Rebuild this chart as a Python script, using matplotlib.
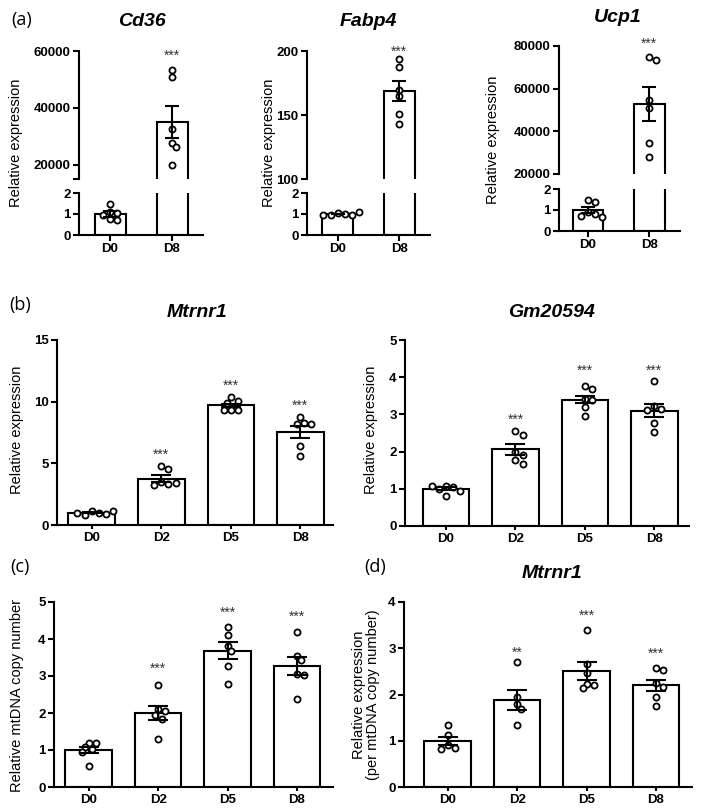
import matplotlib
matplotlib.use('Agg')
import matplotlib.pyplot as plt
import numpy as np

plt.rcParams['font.family'] = ['Liberation Sans', 'DejaVu Sans']

W, H = 703, 811
fig = plt.figure(figsize=(W / 100, H / 100), dpi=100)

# ---------------- data ----------------
cats_a = ['D0', 'D8']
cats_4 = ['D0', 'D2', 'D5', 'D8']

cd36_mean = [1.0, 35000]
cd36_sem = [0.12, 5600]
cd36_pts = [[1.5, 1.1, 1.05, 0.95, 0.75, 0.7],
            [53300, 51000, 32500, 27800, 26200, 19800]]
cd36_star = ['', '***']
cd36_star_y = [None, 59800]

fabp4_mean = [1.0, 168.5]
fabp4_sem = [0.02, 7.8]
fabp4_pts = [[1.05, 0.98, 0.95, 0.95, 0.97, 1.08],
             [194, 187.8, 169.5, 165, 150.8, 143]]
fabp4_star = ['', '***']
fabp4_star_y = [None, 202.3]

ucp1_mean = [1.0, 52700]
ucp1_sem = [0.13, 7900]
ucp1_pts = [[1.48, 1.38, 0.92, 0.82, 0.72, 0.68],
            [75000, 73400, 54500, 50800, 34400, 28200]]
ucp1_star = ['', '***']
ucp1_star_y = [None, 82800]

mtrnr1_mean = [1.0, 3.75, 9.7, 7.55]
mtrnr1_sem = [0.06, 0.3, 0.15, 0.5]
mtrnr1_pts = [[1.1, 1.0, 0.85, 0.9, 1.0, 1.15],
              [4.8, 4.55, 3.5, 3.3, 3.25, 3.4],
              [10.35, 10.05, 9.9, 9.35, 9.3, 9.35],
              [8.75, 8.3, 8.2, 8.15, 6.4, 5.6]]
mtrnr1_star = ['', '***', '***', '***']
mtrnr1_star_y = [None, 6.0, 11.6, 10.0]

gm_mean = [1.0, 2.06, 3.4, 3.1]
gm_sem = [0.04, 0.15, 0.1, 0.18]
gm_pts = [[1.08, 1.05, 1.0, 0.95, 0.8, 1.08],
          [2.55, 2.45, 2.0, 1.9, 1.78, 1.68],
          [3.77, 3.67, 3.42, 3.40, 3.2, 2.97],
          [3.9, 3.22, 3.15, 3.12, 2.78, 2.53]]
gm_star = ['', '***', '***', '***']
gm_star_y = [None, 2.97, 4.29, 4.29]

mt_mean = [1.0, 2.0, 3.68, 3.27]
mt_sem = [0.09, 0.19, 0.23, 0.24]
mt_pts = [[1.2, 1.19, 1.08, 1.02, 0.95, 0.57],
          [2.75, 2.1, 2.05, 1.95, 1.85, 1.3],
          [4.33, 4.12, 3.82, 3.68, 3.27, 2.78],
          [4.18, 3.55, 3.42, 3.05, 3.02, 2.38]]
mt_star = ['', '***', '***', '***']
mt_star_y = [None, 3.31, 4.81, 4.71]

norm_mean = [1.0, 1.88, 2.51, 2.2]
norm_sem = [0.09, 0.22, 0.19, 0.12]
norm_pts = [[1.33, 1.12, 0.9, 0.85, 0.82],
            [2.7, 1.94, 1.79, 1.69, 1.34],
            [3.39, 2.67, 2.47, 2.23, 2.2, 2.13],
            [2.57, 2.52, 2.25, 2.16, 1.75, 1.95]]
norm_star = ['', '**', '***', '***']
norm_star_y = [None, 3.0, 3.8, 2.96]

# ---------------- helpers ----------------
LW = 1.5


def add_ax(x0, x1, y0, y1):
    return fig.add_axes([x0 / W, 1 - y1 / H, (x1 - x0) / W, (y1 - y0) / H])


def swarm(vals, ypp, xpp, d=6.0, step=3.6):
    placed = []
    offs = []
    for v in vals:
        y = v * ypp
        chosen = 0.0
        for k in range(0, 30):
            if k == 0:
                cand = 0.0
            else:
                m = (k + 1) // 2
                cand = m * step * (1 if k % 2 else -1)
            ok = all((cand - px) ** 2 + (y - py) ** 2 >= (d * 0.95) ** 2 for px, py in placed)
            if ok:
                chosen = cand
                break
        placed.append((chosen, y))
        offs.append(chosen / xpp)
    return offs


def style_ax(ax, bottom=True):
    for s in ['top', 'right']:
        ax.spines[s].set_visible(False)
    ax.spines['left'].set_linewidth(LW)
    ax.spines['bottom'].set_linewidth(LW)
    if not bottom:
        ax.spines['bottom'].set_visible(False)
    ax.tick_params(axis='both', which='both', width=LW, length=4, direction='out', pad=2,
                   labelsize=9.5)
    for lab in ax.get_yticklabels() + ax.get_xticklabels():
        lab.set_fontweight('bold')


def px_scales(ax, axw, axh):
    xl = ax.get_xlim()
    yl = ax.get_ylim()
    return axh / (yl[1] - yl[0]), axw / (xl[1] - xl[0])


def draw_group(ax, xs, means, sems, pts, width, capsize, axw, axh, lo=None, hi=None):
    ax.bar(xs, means, width, color='white', edgecolor='black', linewidth=LW, zorder=1)
    ypp, xpp = px_scales(ax, axw, axh)
    for x, vals in zip(xs, pts):
        sel = [v for v in vals if (lo is None or v >= lo) and (hi is None or v <= hi)]
        if not sel:
            continue
        offs = swarm(sel, ypp, xpp)
        ax.plot(np.array(offs) + x, sel, 'o', ms=4.4, mfc='white', mec='black', mew=1.3,
                zorder=4, clip_on=False)
    ax.errorbar(xs, means, yerr=sems, fmt='none', ecolor='black', elinewidth=LW,
                capsize=capsize, capthick=LW, zorder=5)


def stars(ax, xs, labels, ys):
    for x, s, y in zip(xs, labels, ys):
        if s:
            ax.annotate(s, (x, y), xytext=(0, -3), textcoords='offset points', ha='center',
                        va='center', fontsize=10, color='#333333', annotation_clip=False)


def broken_panel(x0, x1, yu0, yu1, yl0, yl1, xlim, up_lim, up_ticks, up_minor,
                 means, sems, pts, star_lab, star_y):
    xs = np.arange(len(cats_a))
    axu = add_ax(x0, x1, yu0, yu1)
    axl = add_ax(x0, x1, yl0, yl1)
    for ax in (axu, axl):
        ax.set_xlim(*xlim)
    axu.set_ylim(*up_lim)
    axl.set_ylim(0, 2)
    draw_group(axu, xs, means, sems, pts, 0.5, 5, x1 - x0, yu1 - yu0, lo=up_lim[0])
    draw_group(axl, xs, means, sems, pts, 0.5, 5, x1 - x0, yl1 - yl0, hi=2)
    axu.set_yticks(up_ticks)
    axu.set_yticklabels([str(t) for t in up_ticks])
    if up_minor is not None:
        axu.set_yticks([up_minor], minor=True)
    axu.set_xticks([])
    axl.set_yticks([0, 1, 2])
    axl.set_xticks(xs)
    axl.set_xticklabels(cats_a)
    style_ax(axu, bottom=False)
    style_ax(axl)
    axu.tick_params(axis='y', which='minor', length=4, width=LW)
    stars(axu, xs, star_lab, star_y)
    return axu, axl


def simple_panel(x0, x1, y0, y1, xlim, ylim, yticks, means, sems, pts, star_lab, star_y):
    xs = np.arange(len(cats_4))
    ax = add_ax(x0, x1, y0, y1)
    ax.set_xlim(*xlim)
    ax.set_ylim(*ylim)
    draw_group(ax, xs, means, sems, pts, 0.67, 7, x1 - x0, y1 - y0)
    ax.set_yticks(yticks)
    ax.set_xticks(xs)
    ax.set_xticklabels(cats_4)
    style_ax(ax)
    ax.tick_params(axis='x', length=3)
    stars(ax, xs, star_lab, star_y)
    return ax


def ftext(x, y, s, **kw):
    fig.text(x / W, 1 - y / H, s, **kw)


# ---------------- panel (a) ----------------
broken_panel(79, 203, 51, 179, 193, 235, (-0.5, 1.5), (15000, 60000),
             [20000, 40000, 60000], 15000, cd36_mean, cd36_sem, cd36_pts, cd36_star, cd36_star_y)
broken_panel(307, 430, 51, 179, 193, 235, (-0.5, 1.5), (100, 200),
             [100, 150, 200], None, fabp4_mean, fabp4_sem, fabp4_pts, fabp4_star, fabp4_star_y)
broken_panel(559, 680, 46, 174, 189, 231, (-0.47, 1.5), (20000, 80000),
             [20000, 40000, 60000, 80000], None, ucp1_mean, ucp1_sem, ucp1_pts, ucp1_star,
             ucp1_star_y)

# ---------------- panel (b) ----------------
simple_panel(57, 333, 340, 525, (-0.5, 3.47), (0, 15), [0, 5, 10, 15],
             mtrnr1_mean, mtrnr1_sem, mtrnr1_pts, mtrnr1_star, mtrnr1_star_y)
simple_panel(405, 689, 340, 526, (-0.59, 3.5), (0, 5), [0, 1, 2, 3, 4, 5],
             gm_mean, gm_sem, gm_pts, gm_star, gm_star_y)

# ---------------- panel (c) / (d) ----------------
simple_panel(54, 333, 602, 787, (-0.5, 3.52), (0, 5), [0, 1, 2, 3, 4, 5],
             mt_mean, mt_sem, mt_pts, mt_star, mt_star_y)
simple_panel(404, 692, 602, 787, (-0.63, 3.52), (0, 4), [0, 1, 2, 3, 4],
             norm_mean, norm_sem, norm_pts, norm_star, norm_star_y)

# ---------------- titles / labels ----------------
title_kw = dict(fontsize=14, fontweight='bold', fontstyle='italic', ha='center', va='center')
ftext(142, 21, 'Cd36', **title_kw)
ftext(368, 22, 'Fabp4', **title_kw)
ftext(618, 18, 'Ucp1', **title_kw)
ftext(197, 312, 'Mtrnr1', **title_kw)
ftext(551, 312, 'Gm20594', **title_kw)
ftext(552, 573, 'Mtrnr1', **title_kw)

pl_kw = dict(fontsize=13, ha='left', va='center', family=['Open Sans', 'DejaVu Sans'])
ftext(11, 20, '(a)', **pl_kw)
ftext(9, 305, '(b)', **pl_kw)
ftext(10, 567, '(c)', **pl_kw)
ftext(364, 567, '(d)', **pl_kw)

yl_kw = dict(fontsize=10.5, rotation=90, ha='center', va='center')
ftext(16, 143, 'Relative expression', **yl_kw)
ftext(269, 143, 'Relative expression', **yl_kw)
ftext(493, 140, 'Relative expression', **yl_kw)
ftext(17, 430, 'Relative expression', **yl_kw)
ftext(371, 430, 'Relative expression', **yl_kw)
ftext(17, 696, 'Relative mtDNA copy number', **yl_kw)
ftext(366, 695, 'Relative expression\n(per mtDNA copy number)', linespacing=0.95, **yl_kw)

fig.savefig('out.png', dpi=100)
